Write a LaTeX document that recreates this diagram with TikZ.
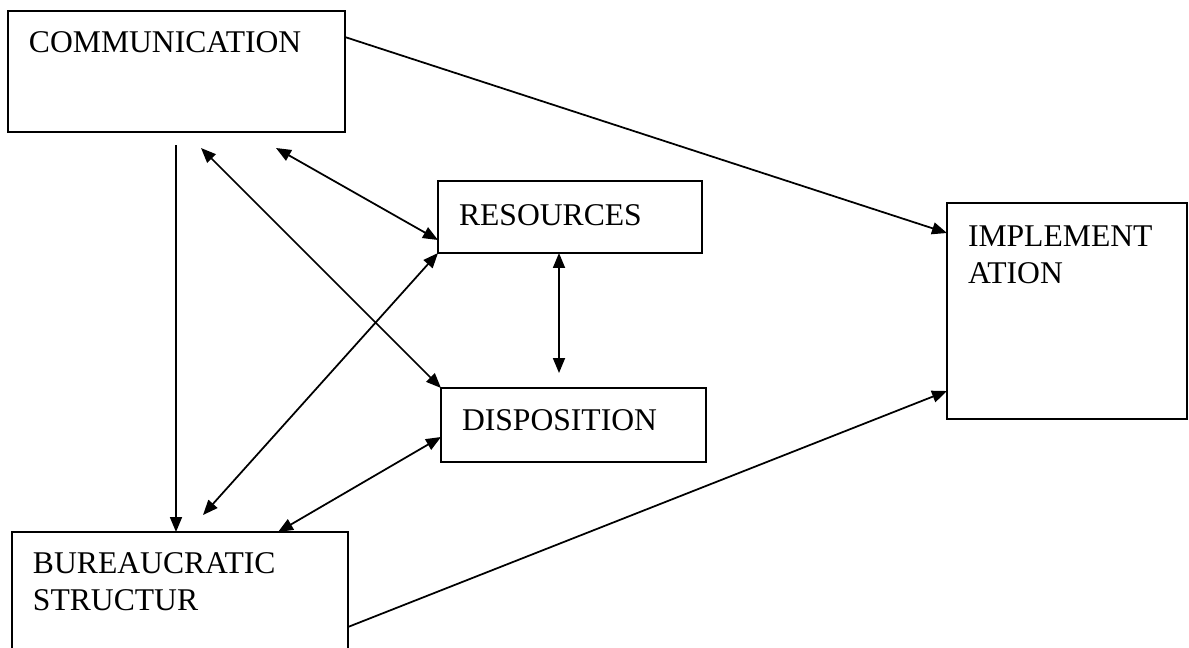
\documentclass[tikz,border=0pt]{standalone}
\usepackage{fontspec}
\setmainfont{Liberation Serif}
\usetikzlibrary{arrows.meta, calc}

\begin{document}
\begin{tikzpicture}[
    x=0.02cm, y=-0.02cm,
    block/.style={rectangle, draw=black, line width=1.2pt, anchor=north west, outer sep=0pt, inner xsep=0.42cm, inner ysep=0pt, align=left, text height=0.84cm, font=\fontsize{18}{21.5}\selectfont},
    oneway/.style={-{Triangle[length=0.3cm, width=0.24cm]}, line width=1pt, color=black},
    twoway/.style={{Triangle[length=0.3cm, width=0.24cm]}-{Triangle[length=0.3cm, width=0.24cm]}, line width=1pt, color=black}
]
    \useasboundingbox (0,0) rectangle (1189,647);
    \clip (0,0) rectangle (1189,647);

    \node[block, text width=5.90cm, text depth=1.58cm] (comm) at (8,11) {COMMUNICATION};
    \node[block, text width=4.44cm, text height=0.88cm, text depth=0.56cm] (res) at (438,181) {RESOURCES};
    \node[block, text width=4.46cm, text depth=0.64cm] (disp) at (441,388) {DISPOSITION};
    \node[block, text width=3.96cm, text height=0.86cm, text depth=3.46cm] (impl) at (947,203) {IMPLEMENT\\ATION};
    \node[block, text width=5.88cm, text height=0.82cm, text depth=2.14cm] (bur) at (12,532) {BUREAUCRATIC\\STRUCTUR};

    \coordinate (c1) at (176,145);
    \coordinate (c2) at (201,148);
    \coordinate (c3) at (276,148);
    \coordinate (c4) at (203,515);

    \draw[oneway] ($(comm.north east)+(0,26)$) -- ($(impl.north west)+(0,30)$);
    \draw[oneway] (c1) -- (c1 |- bur.north);
    \draw[twoway] (c2) -- (disp.north west);
    \draw[twoway] (c3) -- ($(res.south west)+(0,-13)$);
    \draw[twoway] (res.south west) -- (c4);
    \draw[twoway] ($(disp.south west)+(0,-25)$) -- ($(bur.north west)+(266,0)$);
    \draw[twoway] ($(res.south west)+(121,0)$) -- ($(disp.north west)+(118,-15)$);
    \draw[oneway] ($(bur.north east)+(0,95)$) -- ($(impl.north west)+(0,188)$);

\end{tikzpicture}
\end{document}
